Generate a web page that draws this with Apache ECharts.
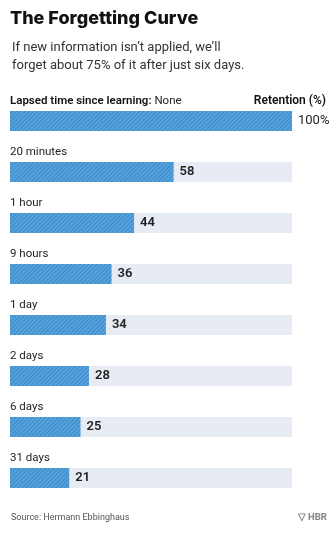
<!DOCTYPE html>
<html>
<head>
<meta charset="utf-8">
<style>
  html, body { margin: 0; padding: 0; background: #fff; }
  #chart { width: 334px; height: 535px; }
</style>
<script src="https://cdn.jsdelivr.net/npm/echarts@6/dist/echarts.min.js"></script>
</head>
<body>
<div id="chart"></div>
<script>
// Lapsed time since learning, and the share of material still retained
const categories = ['None', '20 minutes', '1 hour', '9 hours', '1 day', '2 days', '6 days', '31 days'];
const retention = [100, 58, 44, 36, 34, 28, 25, 21];
const trackMax = 100;

const FONT = 'Roboto, "Liberation Sans", sans-serif';
const chart = echarts.init(document.getElementById('chart'), null, { renderer: 'canvas' });

chart.setOption({
  backgroundColor: '#ffffff',
  animation: false,
  title: [
    {
      text: 'The Forgetting Curve',
      left: 5, top: 5, padding: [5, 5],
      textStyle: { fontFamily: 'Inter, Roboto, sans-serif', fontSize: 18, fontWeight: 800, color: '#111' }
    },
    {
      text: 'If new information isn\u2019t applied, we\u2019ll\nforget about 75% of it after just six days.',
      left: 7, top: 34,
      textStyle: { fontFamily: FONT, fontSize: 13, fontWeight: 400, color: '#333', lineHeight: 18 }
    },
    {
      text: 'Retention (%)',
      right: 3, top: 90,
      textStyle: { fontFamily: FONT, fontSize: 12, fontWeight: 600, color: '#111' }
    },
    {
      text: 'Source: Hermann Ebbinghaus',
      left: 6, top: 508,
      textStyle: { fontFamily: FONT, fontSize: 9, fontWeight: 400, color: '#555' }
    },
    {
      text: '\u25BD HBR',
      right: 2, top: 508,
      textStyle: { fontFamily: FONT, fontSize: 9.5, fontWeight: 800, color: '#888' }
    }
  ],
  grid: { left: 10, right: 42, top: 95.5, height: 408 },
  xAxis: { type: 'value', min: 0, max: trackMax, show: false },
  yAxis: { type: 'category', data: categories, inverse: true, show: false },
  series: [
    {
      // light grey track behind each bar, carrying the time label above it
      type: 'bar',
      data: categories.map(() => trackMax),
      barWidth: 20,
      barGap: '-100%',
      itemStyle: { color: '#e7ebf3' },
      silent: true,
      label: {
        show: true,
        position: [0, -16],
        fontFamily: FONT,
        fontSize: 11.5,
        color: '#222',
        formatter: p => p.dataIndex === 0
          ? '{b|Lapsed time since learning:} ' + p.name
          : p.name,
        rich: { b: { fontFamily: FONT, fontSize: 11.5, fontWeight: 600, color: '#111' } }
      },
      z: 1
    },
    {
      type: 'bar',
      data: retention,
      barWidth: 20,
      itemStyle: {
        color: '#55a3dc',
        decal: {
          symbol: 'rect',
          dashArrayX: [1, 0],
          dashArrayY: [1, 2],
          rotation: -Math.PI / 4,
          color: 'rgba(30, 95, 165, 0.4)'
        }
      },
      label: {
        show: true,
        position: 'right',
        distance: 6,
        fontFamily: FONT,
        fontSize: 13,
        fontWeight: 600,
        color: '#222',
        formatter: p => p.dataIndex === 0 ? '{r|' + p.value + '%}' : String(p.value),
        rich: { r: { fontFamily: FONT, fontSize: 13, fontWeight: 400, color: '#222' } }
      },
      z: 2
    }
  ]
});
</script>
</body>
</html>
